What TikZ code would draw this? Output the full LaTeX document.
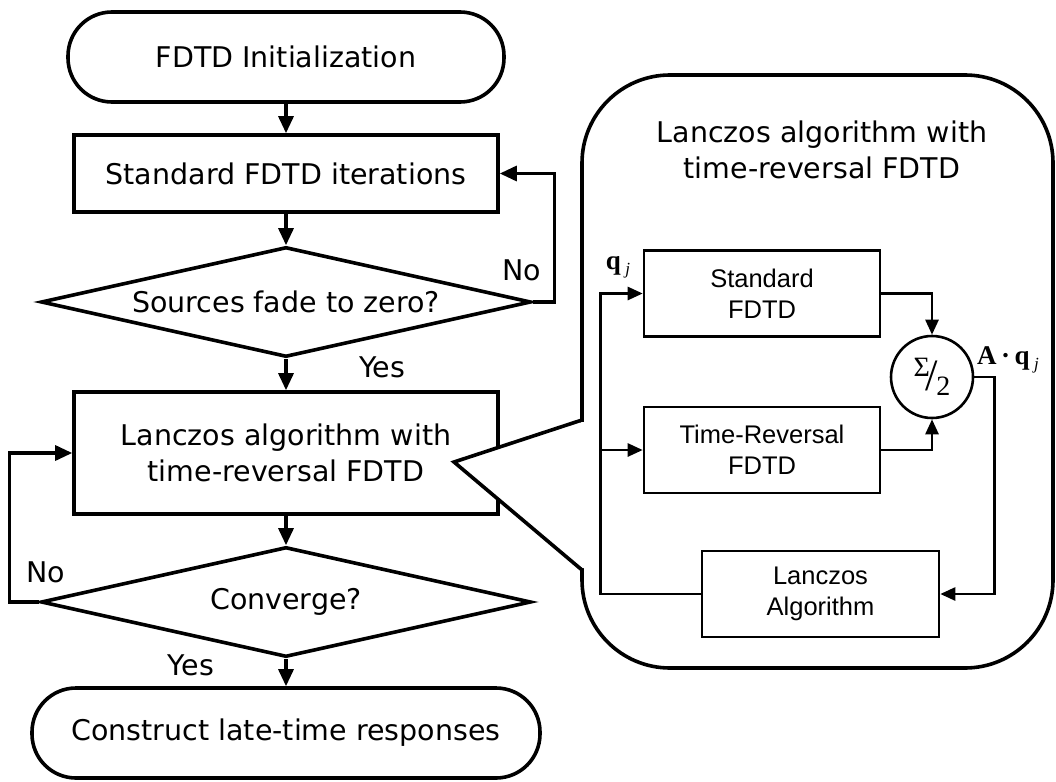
\documentclass[tikz,border=0pt]{standalone}
\usepackage{fontspec}
\setmainfont{DejaVu Sans}
\newfontfamily\arialf{Liberation Sans}
\newfontfamily\timesf{Liberation Serif}
\usetikzlibrary{arrows.meta,shapes.geometric,calc}
\newcommand{\bigtxt}{\fontsize{28.5}{36}\selectfont}
\newcommand{\blktxt}{\arialf\fontsize{25.5}{31}\selectfont}
\newcommand{\mathtxt}{\timesf\fontsize{27}{27}\selectfont}
\newcommand{\subj}{\raisebox{-5pt}{\fontsize{17}{17}\selectfont\itshape j}}

\begin{document}
\begin{tikzpicture}[x=1pt, y=-1pt,
    term/.style={draw, line width=3.6pt, rounded corners=44pt, minimum height=90pt, font=\bigtxt},
    box/.style={draw, line width=3.6pt, minimum width=424pt, align=center, font=\bigtxt},
    dec/.style={diamond, draw, line width=3.6pt, aspect=4.47, inner sep=0pt, minimum width=490pt, minimum height=110pt, font=\bigtxt},
    blk/.style={draw, line width=2.6pt, minimum width=236pt, minimum height=86pt, align=center, font=\blktxt},
    arr/.style={line width=3.2pt, -{Triangle[length=17pt,width=15pt]}},
    sarr/.style={line width=2.6pt, -{Triangle[length=15pt,width=13pt]}},
]
    \useasboundingbox (0,0) rectangle (1056,781);

    % main flow
    \node[term, minimum width=436pt] (init) at (286,57) {FDTD Initialization};
    \node[box, minimum height=77pt] (iter) at (286,173.5) {Standard FDTD iterations};
    \node[dec] (fade) at (286,302) {Sources fade to zero?};
    \node[box, minimum height=122pt] (lanc) at (286,453) {Lanczos algorithm with\\time-reversal FDTD};
    \node[dec] (conv) at (286,602) {Converge?};
    \node[term, minimum width=508pt] (late) at (286,733) {Construct late-time responses};

    \draw[arr] (init) -- (iter);
    \draw[arr] (iter) -- (fade);
    \draw[arr] (fade) -- (lanc);
    \draw[arr] (lanc) -- (conv);
    \draw[arr] (conv) -- (late);
    \draw[arr] (fade.east) -- ++(22,0) |- (iter.east);
    \draw[arr] (conv.west) -- ++(-30,0) |- (lanc.west);

    \node[font=\bigtxt] (no1) at (522,270) {No};
    \node[font=\bigtxt] (yes1) at (382,367) {Yes};
    \node[font=\bigtxt] (no2) at (46,572) {No};
    \node[font=\bigtxt] (yes2) at (191,665) {Yes};

    % callout panel
    \draw[line width=3.6pt, rounded corners=88pt, fill=white] (582,75) rectangle (1053,668);
    \fill[white] (588,422) -- (582,422) -- (454,462) -- (582,568) -- (588,568) -- cycle;
    \draw[line width=3.6pt, line join=miter] (582,420) -- (454,462) -- (582,570);
    \node[font=\bigtxt, align=center] (ptitle) at (822,150) {Lanczos algorithm with\\time-reversal FDTD};

    % inner blocks
    \node[blk] (std) at (762,293.5) {Standard\\FDTD};
    \node[blk] (trv) at (762,450) {Time-Reversal\\FDTD};
    \node[blk, minimum width=237pt] (lcz) at (820.5,594) {Lanczos\\Algorithm};
    \node[circle, draw, line width=2.6pt, minimum size=82pt, inner sep=0pt, font=\timesf\fontsize{28}{28}\selectfont] (sum) at (932,377)
        {\raisebox{8pt}{Σ}\kern-4pt\raisebox{-6pt}{\scalebox{1.6}{/}}\kern-2pt\raisebox{-11pt}{2}};
    \coordinate (tap) at (602,450);

    \draw[sarr] (std.east) -| (sum.north);
    \draw[sarr] (trv.east) -| (sum.south);
    \draw[sarr] (sum.east) -- ++(20,0) |- (lcz.east);
    \draw[sarr] (lcz.west) -- ++(-100,0) |- (std.west);
    \draw[sarr] (tap) -- (trv.west);

    \node[font=\mathtxt] (qj) at (618,267) {\textbf{q}\,\subj};
    \node[font=\mathtxt] (aqj) at (1008,360) {\textbf{A}\,\textbf{·}\,\textbf{q}\,\subj};
\end{tikzpicture}
\end{document}
